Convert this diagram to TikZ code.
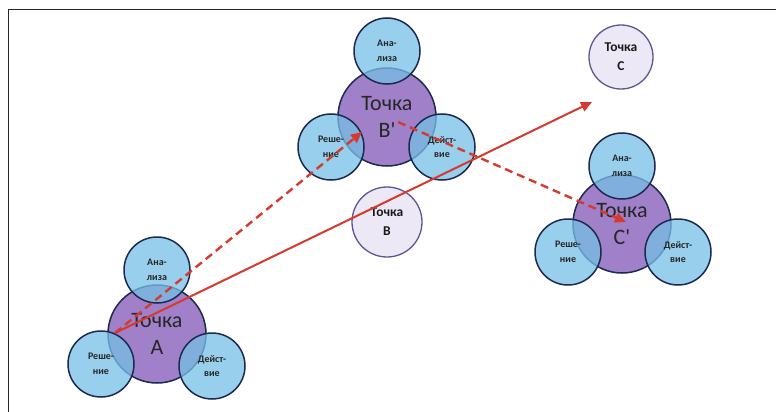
\documentclass[tikz,border=0pt]{standalone}
\usepackage{fontspec}
\setmainfont{Carlito}
\usetikzlibrary{arrows.meta}
\definecolor{cbig}{RGB}{160,128,200}
\definecolor{csmall}{RGB}{118,192,230}
\definecolor{cedge}{RGB}{28,42,80}
\definecolor{cpale}{RGB}{236,232,246}
\definecolor{cpaleedge}{RGB}{95,85,145}
\definecolor{carr}{RGB}{214,58,46}
\tikzset{
  bigpt/.style={circle,fill=cbig,draw=cedge,line width=1.5pt,minimum size=98pt,
    inner sep=0pt,align=center,text=black!85,font=\fontsize{22}{27}\selectfont},
  subpt/.style={circle,fill=csmall,fill opacity=0.75,text opacity=1,draw=cedge,
    line width=1.5pt,minimum size=66pt,inner sep=0pt,align=center,text=black!85,
    font=\bfseries\fontsize{10}{14.5}\selectfont},
  goalpt/.style={circle,fill=cpale,draw=cpaleedge,line width=1.3pt,minimum size=70pt,
    inner sep=0pt,align=center,text=black!90,font=\bfseries\fontsize{13.5}{19}\selectfont},
  % real path solid, planned path dashed
  realarr/.style={carr,line width=2pt,-{Triangle[length=11pt,width=10pt]}},
  planarr/.style={realarr,line width=2.4pt,dash pattern=on 8pt off 5pt}
}

\begin{document}
\begin{tikzpicture}[x=1pt,y=-1pt]
  \useasboundingbox (0,0) rectangle (776,412);
  \fill[white] (0,0) rectangle (776,412);
  \draw[line width=1.5pt,black!85] (776,9.5) -| (8.5,412);
  % point A with its three stages
  \node[bigpt] (A) at (157,334) {Точка\\A};
  \node[subpt] (Aan) at (157,270) {Ана-\\лиза};
  \node[subpt] (Are) at (101,364) {Реше-\\ние};
  \node[subpt] (Ade) at (212,366) {Дейст-\\вие};
  % point B'
  \node[bigpt] (Bp) at (387,117) {Точка\\B\textquotesingle};
  \node[subpt] (Bpan) at (387,51) {Ана-\\лиза};
  \node[subpt] (Bpre) at (331,147) {Реше-\\ние};
  \node[subpt] (Bpde) at (442,147) {Дейст-\\вие};
  % point C'
  \node[bigpt] (Cp) at (622,224) {Точка\\C\textquotesingle};
  \node[subpt] (Cpan) at (622,166) {Ана-\\лиза};
  \node[subpt] (Cpre) at (568,252) {Реше-\\ние};
  \node[subpt] (Cpde) at (678,252) {Дейст-\\вие};
  % goal points
  \node[goalpt] (B) at (387,222) {Точка\\B};
  \node[goalpt,minimum size=64pt] (C) at (621,57) {Точка\\C};
  % arrow ends
  \coordinate (a0) at (115,333);
  \coordinate (c0) at (592,102);
  \coordinate (b1) at (362,132);
  \coordinate (b2) at (398,122);
  \coordinate (c1) at (626,222);
  \draw[realarr] (a0) -- (c0);
  \draw[planarr] (a0) -- (b1);
  \draw[planarr] (b2) -- (c1);
\end{tikzpicture}
\end{document}
